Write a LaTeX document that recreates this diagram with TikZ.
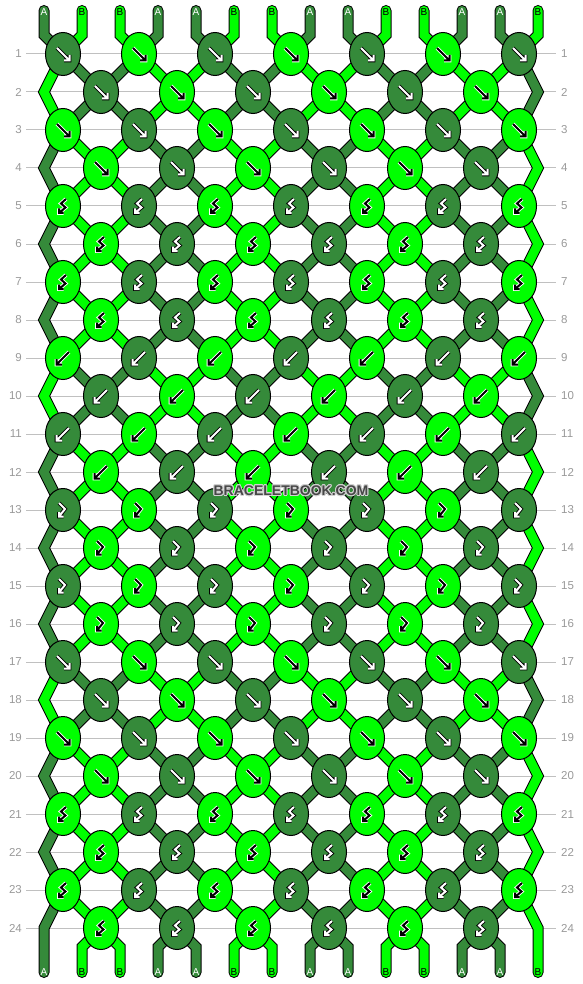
\documentclass[tikz,border=0pt]{standalone}
\usepackage{fontspec}
\setmainfont{Liberation Sans}
\usepackage[copies]{contour}
\usetikzlibrary{shapes.geometric,backgrounds}
\definecolor{A}{RGB}{53,138,58}
\definecolor{B}{RGB}{0,255,0}
\colorlet{c0}{A}\colorlet{c1}{B}
\colorlet{g0}{white}\colorlet{g1}{black}
\colorlet{o0}{black}\colorlet{o1}{white}
\colorlet{t0}{white}\colorlet{t1}{black}
\definecolor{rowgrey}{RGB}{153,153,153}
\definecolor{gridgrey}{RGB}{192,192,192}
\contourlength{0.9pt}
% colour (0=A, 1=B) of the thread at place #2, row state #3
\newcommand{\threadcol}[3]{\pgfmathtruncatemacro{#1}{mod(floor(mod(#2,4)/2)+#3,2)}}
% knot arrows, in pixels round the knot centre
\newcommand{\glyphf}{(-6,-6) -- (6.5,6.5) (1,6.5) -- (6.5,6.5) -- (6.5,1)}
\newcommand{\glyphb}{(6,-6) -- (-6.5,6.5) (-1,6.5) -- (-6.5,6.5) -- (-6.5,1)}
\newcommand{\glyphfb}{(-4,-7) -- (2,-1) -- (-4,6.5) (0.5,6.5) -- (-4,6.5) -- (-4,2)}
\newcommand{\glyphbf}{(3,-7) -- (-2,-2.5) -- (2.5,1.5) -- (-4,7) (0.5,7) -- (-4,7) -- (-4,2.5)}
% row/state in/state out/knot/shows left
\newcommand{\rowlist}{1/0/1/f/1,2/1/1/f/1,3/1/0/f/1,4/0/0/f/1,%
5/0/0/bf/0,6/0/0/bf/0,7/0/0/bf/0,8/0/0/bf/0,%
9/0/1/b/0,10/1/1/b/0,11/1/0/b/0,12/0/0/b/0,%
13/0/0/fb/1,14/0/0/fb/1,15/0/0/fb/1,16/0/0/fb/1,%
17/0/1/f/1,18/1/1/f/1,19/1/0/f/1,20/0/0/f/1,%
21/0/0/bf/0,22/0/0/bf/0,23/0/0/bf/0,24/0/0/bf/0}
\tikzset{
  knot/.style={ellipse, draw=black, line width=1pt, minimum width=35pt, minimum height=43pt, inner sep=0pt},
  thread/.style={draw=black, double=c#1, double distance=9pt, line width=1pt},
  glyph/.style={draw=o#1, double=g#1, double distance=2pt, line width=0.9pt},
  rowlabel/.style={text=rowgrey, font=\fontsize{11.5}{12}\selectfont, inner sep=1pt},
  endlabel/.style={font=\fontsize{10}{10}\selectfont, inner sep=0pt},
  gridline/.style={draw=gridgrey, line width=1pt}
}

\begin{document}
\begin{tikzpicture}[x=1pt,y=-1pt]
\useasboundingbox (0,0) rectangle (582,984);
\foreach \r/\s/\o/\t/\l in \rowlist{
  \pgfmathtruncatemacro{\y}{16+38*\r}
  \expandafter\let\expandafter\gpath\csname glyph\t\endcsname
  \ifodd\r\relax
    \foreach \c in {1,...,7}{
      \pgfmathtruncatemacro{\x}{76*\c-13}
      \threadcol{\kc}{2*\c-\l}{\s}
      \node[knot, fill=c\kc] (k-\r-\c) at (\x,\y) {};
      \draw[glyph=\kc, shift={(k-\r-\c.center)}] \gpath;
    }
  \else
    \coordinate (el-\r) at (44,\y);
    \coordinate (er-\r) at (538,\y);
    \foreach \c in {1,...,6}{
      \pgfmathtruncatemacro{\x}{76*\c+25}
      \threadcol{\kc}{2*\c+1-\l}{\s}
      \node[knot, fill=c\kc] (k-\r-\c) at (\x,\y) {};
      \draw[glyph=\kc, shift={(k-\r-\c.center)}] \gpath;
    }
  \fi
  \node[rowlabel, anchor=east] (rl-\r) at (23,\y) {\r};
  \node[rowlabel, anchor=west] (rr-\r) at (560,\y) {\r};
}
\foreach \i in {1,...,14}{
  \pgfmathtruncatemacro{\x}{38*\i+6}
  \threadcol{\sc}{\i}{0}
  \coordinate (t-\i) at (\x,10.5);
  \coordinate (tb-\i) at (\x,35);
  \coordinate (bb-\i) at (\x,947);
  \coordinate (b-\i) at (\x,972.5);
  \node[endlabel, text=t\sc] (lt-\i) at (\x,12.5) {\ifnum\sc=0 A\else B\fi};
  \node[endlabel, text=t\sc] (lb-\i) at (\x,972) {\ifnum\sc=0 A\else B\fi};
}
\node[text=black!72] (wm) at (291,491) {\fontsize{14}{14}\selectfont\bfseries\contour{white!82!black}{BRACELETBOOK.COM}};

\begin{pgfonlayer}{background}
\foreach \r in {1,...,24}{
  \pgfmathtruncatemacro{\y}{16+38*\r}
  \draw[gridline] (26,\y) -- (556,\y);
}
% threads from the top
\foreach \i in {1,...,14}{
  \pgfmathtruncatemacro{\c}{(\i+1)/2}
  \threadcol{\sc}{\i}{0}
  \draw[thread=\sc, line cap=round] (k-1-\c.center) -- (tb-\i) -- (t-\i);
}
% threads between the rows
\foreach \r/\s/\o/\t/\l in \rowlist{
  \pgfmathtruncatemacro{\n}{\r+1}
  \pgfmathtruncatemacro{\m}{\r+2}
  \ifnum\r<24
    \foreach \c in {1,...,6}{
      \pgfmathtruncatemacro{\d}{\c+1}
      \threadcol{\sc}{2*\c}{\o}
      \ifodd\r\relax
        \draw[thread=\sc] (k-\r-\c.center) -- (k-\n-\c.center);
        \draw[thread=\sc] (k-\r-\d.center) -- (k-\n-\c.center);
      \else
        \draw[thread=\sc] (k-\r-\c.center) -- (k-\n-\c.center);
        \draw[thread=\sc] (k-\r-\c.center) -- (k-\n-\d.center);
      \fi
    }
  \fi
  \ifodd\r\relax\ifnum\r<23
    \threadcol{\sc}{1}{\o}
    \draw[thread=\sc] (k-\r-1.center) -- (el-\n) -- (k-\m-1.center);
    \threadcol{\sc}{14}{\o}
    \draw[thread=\sc] (k-\r-7.center) -- (er-\n) -- (k-\m-7.center);
  \fi\fi
}
% threads to the bottom
\foreach \i in {2,...,13}{
  \pgfmathtruncatemacro{\c}{\i/2}
  \threadcol{\sc}{\i}{0}
  \draw[thread=\sc, line cap=round] (k-24-\c.center) -- (bb-\i) -- (b-\i);
}
\draw[thread=0, line cap=round] (k-23-1.center) -- (el-24) -- (b-1);
\draw[thread=1, line cap=round] (k-23-7.center) -- (er-24) -- (b-14);
\end{pgfonlayer}
\end{tikzpicture}
\end{document}
